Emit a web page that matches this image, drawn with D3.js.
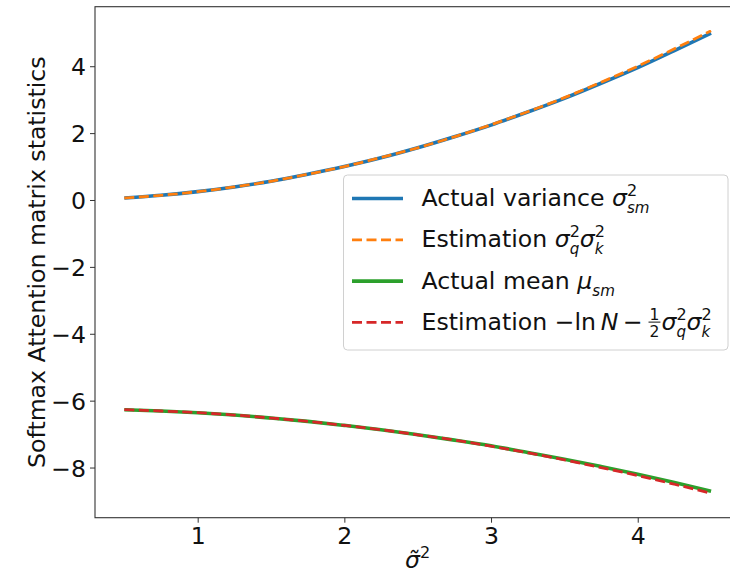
<!DOCTYPE html>
<html>
<head>
<meta charset="utf-8">
<script src="https://cdn.jsdelivr.net/npm/d3@7"></script>
<style>
  html, body { margin: 0; padding: 0; background: #fff; }
  svg { display: block; font-family: "DejaVu Sans", sans-serif; }
</style>
</head>
<body>
<svg id="chart" width="730" height="570"></svg>
<script>
// Noise level on the x axis
const sigmaTilde = [0.5, 0.75, 1.0, 1.25, 1.5, 1.75, 2.0, 2.25, 2.5, 2.75, 3.0, 3.25, 3.5, 3.75, 4.0, 4.25, 4.5];

// Softmax attention matrix statistics
const actualVariance = [0.06, 0.14, 0.25, 0.39, 0.56, 0.77, 1.00, 1.26, 1.56, 1.89, 2.24, 2.63, 3.04, 3.49, 3.96, 4.47, 4.99];
const estVariance    = [0.06, 0.14, 0.25, 0.39, 0.56, 0.77, 1.00, 1.27, 1.56, 1.89, 2.25, 2.64, 3.06, 3.52, 4.00, 4.52, 5.06];
const actualMean     = [-6.27, -6.31, -6.36, -6.43, -6.52, -6.62, -6.74, -6.87, -7.02, -7.18, -7.35, -7.55, -7.75, -7.97, -8.20, -8.45, -8.71];
const estMean        = [-6.27, -6.31, -6.36, -6.43, -6.52, -6.62, -6.74, -6.87, -7.02, -7.18, -7.36, -7.56, -7.77, -8.00, -8.24, -8.50, -8.77];

const xTicks = [1, 2, 3, 4];
const yTicks = [-8, -6, -4, -2, 0, 2, 4];

const FS = 23.6;
const svg = d3.select("#chart");

const plot = { left: 95, right: 740.4, top: 6.7, bottom: 517.7 };
const x = d3.scaleLinear().domain([0.3, 4.7]).range([plot.left, plot.right]);
const y = d3.scaleLinear().domain([-9.5, 5.78]).range([plot.bottom, plot.top]);

const fmt = d => (d < 0 ? "\u2212" + Math.abs(d) : String(d));

// axes
const xAxis = d3.axisBottom(x).tickValues(xTicks).tickSize(5).tickPadding(5).tickFormat(fmt);
const yAxis = d3.axisLeft(y).tickValues(yTicks).tickSize(5).tickPadding(4).tickFormat(fmt);

const gx = svg.append("g").attr("transform", `translate(0,${plot.bottom})`).call(xAxis);
const gy = svg.append("g").attr("transform", `translate(${plot.left},0)`).call(yAxis);
[gx, gy].forEach(g => {
  g.select(".domain").remove();
  g.selectAll(".tick line").attr("stroke", "#333").attr("stroke-width", 1);
  g.selectAll(".tick text").attr("fill", "#111").style("font-size", FS + "px")
    .style("font-family", "DejaVu Sans, sans-serif");
});
gy.selectAll(".tick text").attr("dy", "0.36em");

// frame
svg.append("rect")
  .attr("x", plot.left).attr("y", plot.top)
  .attr("width", plot.right - plot.left).attr("height", plot.bottom - plot.top)
  .attr("fill", "none").attr("stroke", "#333").attr("stroke-width", 1.1);

// series
const series = [
  { vals: actualVariance, color: "#1f77b4", dash: null },
  { vals: estVariance,    color: "#ff7f0e", dash: "10,4.5" },
  { vals: actualMean,     color: "#2ca02c", dash: null },
  { vals: estMean,        color: "#d62728", dash: "10,4.5" }
];
const line = d3.line().x(d => x(d[0])).y(d => y(d[1])).curve(d3.curveMonotoneX);
series.forEach(s => {
  svg.append("path")
    .datum(sigmaTilde.map((v, i) => [v, s.vals[i]]))
    .attr("d", line)
    .attr("fill", "none")
    .attr("stroke", s.color)
    .attr("stroke-width", s.dash ? 2.8 : 3.6)
    .attr("stroke-dasharray", s.dash);
});

// small math-text layout: runs of text with sup/sub/fraction pieces
function mathText(g, x0, yb, parts) {
  let cx = x0, lastStart = x0;
  parts.forEach(p => {
    if (p.frac) {
      const s = 0.66 * FS;
      const a = g.append("text").style("font-size", s + "px").text(p.frac[0]);
      const b = g.append("text").style("font-size", s + "px").text(p.frac[1]);
      const w = Math.max(a.node().getComputedTextLength(), b.node().getComputedTextLength()) + 4;
      a.attr("x", cx + w / 2).attr("y", yb - 0.42 * FS).attr("text-anchor", "middle");
      b.attr("x", cx + w / 2).attr("y", yb + 0.3 * FS).attr("text-anchor", "middle");
      g.append("line").attr("x1", cx + 1).attr("x2", cx + w - 1)
        .attr("y1", yb - 0.33 * FS).attr("y2", yb - 0.33 * FS)
        .attr("stroke", "#111").attr("stroke-width", 1);
      lastStart = cx; cx += w;
      return;
    }
    const sx = p.stack ? lastStart : cx;
    const t = g.append("text")
      .attr("x", sx)
      .attr("y", yb + (p.dy || 0) * FS)
      .style("font-size", (p.s || 1) * FS + "px")
      .style("font-style", p.it ? "italic" : "normal")
      .attr("xml:space", "preserve")
      .text(p.t);
    const w = t.node().getComputedTextLength();
    if (p.stack) cx = Math.max(cx, sx + w);
    else { lastStart = sx; cx = sx + w; }
  });
  return cx;
}
const sup = t => ({ t, s: 0.68, dy: -0.42 });
const sub = (t, stack) => ({ t, s: 0.64, dy: 0.3, it: true, stack });

// axis labels
const xl = svg.append("g").attr("fill", "#111");
const xlParts = [{ t: "\u03c3\u0303", it: true }, sup("2")];
const tmp = svg.append("g").attr("opacity", 0);
const xlW = mathText(tmp, 0, 0, xlParts);
tmp.remove();
mathText(xl, (plot.left + plot.right) / 2 - xlW / 2, 567.5, xlParts);

svg.append("text")
  .attr("transform", `translate(45,${(plot.top + plot.bottom) / 2}) rotate(-90)`)
  .attr("text-anchor", "middle")
  .attr("fill", "#111")
  .style("font-size", FS + "px")
  .text("Softmax Attention matrix statistics");

// legend
const lg = svg.append("g");
lg.append("rect")
  .attr("x", 343.5).attr("y", 175).attr("width", 384.5).attr("height", 175)
  .attr("rx", 4).attr("fill", "#fff").attr("fill-opacity", 0.8)
  .attr("stroke", "#d0d0d0").attr("stroke-width", 1);

const legendRows = [
  [{ t: "Actual variance " }, { t: "\u03c3", it: true }, sup("2"), sub("sm", true)],
  [{ t: "Estimation " }, { t: "\u03c3", it: true }, sup("2"), sub("q", true), { t: "\u03c3", it: true }, sup("2"), sub("k", true)],
  [{ t: "Actual mean " }, { t: "\u03bc", it: true }, sub("sm", false)],
  [{ t: "Estimation " }, { t: "\u2212ln\u2009" }, { t: "N", it: true }, { t: "\u2009\u2212\u2009" }, { frac: ["1", "2"] },
   { t: "\u03c3", it: true }, sup("2"), sub("q", true), { t: "\u03c3", it: true }, sup("2"), sub("k", true)]
];
legendRows.forEach((parts, i) => {
  const yc = 198.5 + i * 41.3;
  const s = series[i];
  lg.append("line")
    .attr("x1", 352).attr("x2", 403).attr("y1", yc).attr("y2", yc)
    .attr("stroke", s.color).attr("stroke-width", s.dash ? 2.8 : 3.6)
    .attr("stroke-dasharray", s.dash);
  mathText(lg.append("g").attr("fill", "#111"), 421.5, yc + 7.5, parts);
});
</script>
</body>
</html>
